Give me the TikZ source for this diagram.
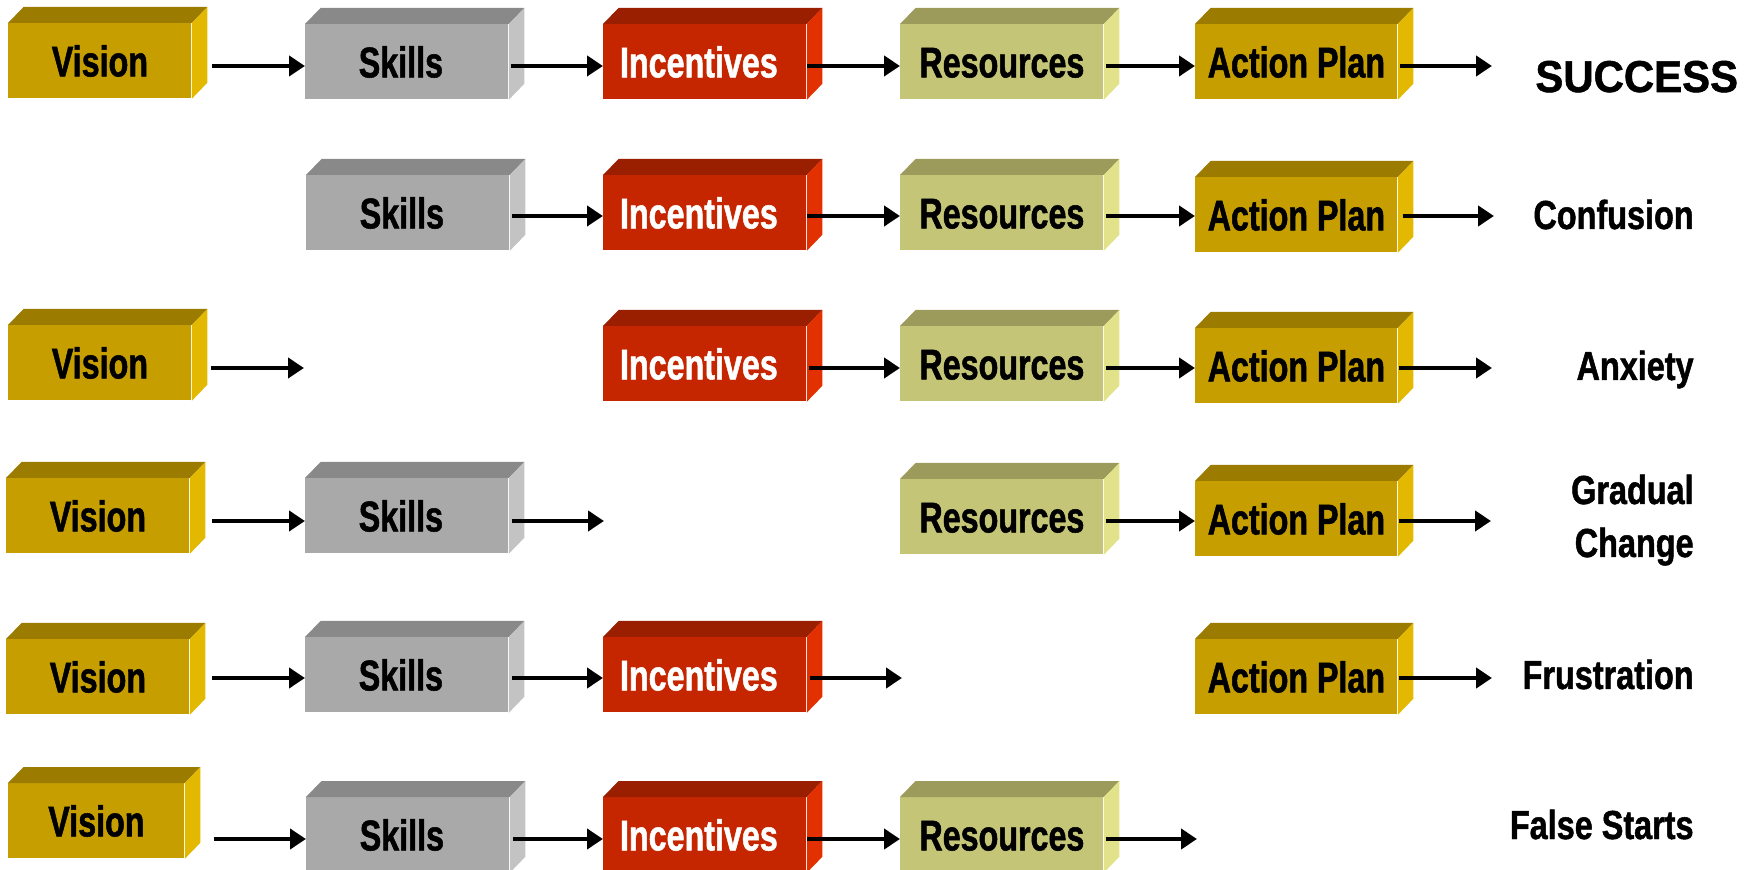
\documentclass[tikz,border=0pt]{standalone}
\usepackage{fontspec}
\usetikzlibrary{arrows.meta,calc}
\newfontfamily\narrowfont[FakeStretch=0.75,FakeBold=1.2]{Liberation Sans}
\newfontfamily\labfont[FakeStretch=0.8,FakeBold=1.2]{Liberation Sans}
\newfontfamily\sucfont[FakeStretch=0.94,FakeBold=1.2]{Liberation Sans}
\definecolor{visF}{HTML}{C69E00}\definecolor{visT}{HTML}{9B7B00}\definecolor{visS}{HTML}{E2B800}\definecolor{visX}{HTML}{000000}
\definecolor{sklF}{HTML}{A9A9A9}\definecolor{sklT}{HTML}{898989}\definecolor{sklS}{HTML}{C3C3C3}\definecolor{sklX}{HTML}{000000}
\definecolor{incF}{HTML}{C52600}\definecolor{incT}{HTML}{9A1F00}\definecolor{incS}{HTML}{E33000}\definecolor{incX}{HTML}{FFFFFF}
\definecolor{resF}{HTML}{C4C577}\definecolor{resT}{HTML}{9C9B5C}\definecolor{resS}{HTML}{E1E28A}\definecolor{resX}{HTML}{000000}
\newcommand\padvis{}\newcommand\padres{}
\newcommand\padskl{\kern6pt}\newcommand\padinc{\kern6pt}
\tikzset{
  cubenode/.style={anchor=north west, inner sep=0pt, minimum height=37.5pt,
    text height=15.5pt, text depth=0pt,
    font={\narrowfont\bfseries\fontsize{21.5}{24}\selectfont}},
  arr/.style={line width=2pt, -{Triangle[length=8pt,width=10pt]}},
  lab/.style={inner sep=0pt, anchor=base east,
    font={\labfont\bfseries\fontsize{20.25}{26.5}\selectfont}}
}
% #1 name, #2 x, #3 y, #4 kind, #5 text, #6 width (px)
\newcommand\Cube[6]{%
  \node[cubenode, fill=#4F, text=#4X, minimum width={#6*0.5pt}] (#1) at (#2,#3) {#5\csname pad#4\endcsname};
  \fill[#4T] (#1.north west) -- ++(15.5,-16) -- ($(#1.north east)+(15.5,-16)$) -- (#1.north east) -- cycle;
  \fill[#4S] (#1.north east) -- ++(15.5,-16) -- ($(#1.south east)+(15.5,-16)$) -- (#1.south east) -- cycle;
}
\begin{document}
\begin{tikzpicture}[x=0.5pt,y=-0.5pt]
\useasboundingbox (0,0) rectangle (1760,870);
% row 1
\Cube{v1}{8}{23}{vis}{Vision}{183}
\Cube{s1}{305}{24}{skl}{Skills}{203}
\Cube{i1}{603}{24}{inc}{Incentives}{203}
\Cube{r1}{900}{24}{res}{Resources}{203}
\Cube{a1}{1195}{24}{vis}{Action Plan}{202}
% row 2
\Cube{s2}{306}{175}{skl}{Skills}{203}
\Cube{i2}{603}{175}{inc}{Incentives}{203}
\Cube{r2}{900}{175}{res}{Resources}{203}
\Cube{a2}{1195}{177}{vis}{Action Plan}{202}
% row 3
\Cube{v3}{8}{325}{vis}{Vision}{183}
\Cube{i3}{603}{326}{inc}{Incentives}{203}
\Cube{r3}{900}{326}{res}{Resources}{203}
\Cube{a3}{1195}{328}{vis}{Action Plan}{202}
% row 4
\Cube{v4}{6}{478}{vis}{Vision}{183}
\Cube{s4}{305}{478}{skl}{Skills}{203}
\Cube{r4}{900}{479}{res}{Resources}{203}
\Cube{a4}{1195}{481}{vis}{Action Plan}{202}
% row 5
\Cube{v5}{6}{639}{vis}{Vision}{183}
\Cube{s5}{305}{637}{skl}{Skills}{203}
\Cube{i5}{603}{637}{inc}{Incentives}{203}
\Cube{a5}{1195}{639}{vis}{Action Plan}{202}
% row 6
\Cube{v6}{8}{783}{vis}{Vision}{176}
\Cube{s6}{306}{797}{skl}{Skills}{203}
\Cube{i6}{603}{797}{inc}{Incentives}{203}
\Cube{r6}{900}{797}{res}{Resources}{203}

% row y levels
\coordinate (y1) at (0,66);
\coordinate (y2) at (0,216);
\coordinate (y3) at (0,368);
\coordinate (y4) at (0,521);
\coordinate (y5) at (0,678);
\coordinate (y6) at (0,839);

% labels
\node[inner sep=0pt, anchor=base west, font={\sucfont\bfseries\fontsize{22.3}{26}\selectfont}] (L1) at (1535,92) {SUCCESS};
\node[lab] (L2) at (1694,229) {Confusion};
\node[lab] (L3) at (1694,380) {Anxiety};
\node[lab, align=right] (L4) at (1694,557) {Gradual\\Change};
\node[lab] (L5) at (1694,689) {Frustration};
\node[lab] (L6) at (1694,839) {False Starts};

% free ends
\coordinate (e1) at (1492,66);
\coordinate (e2) at (1494,216);
\coordinate (e3a) at (304,368);
\coordinate (e3) at (1492,368);
\coordinate (e4a) at (604,521);
\coordinate (e4) at (1491,521);
\coordinate (e5a) at (902,678);
\coordinate (e5) at (1492,678);
\coordinate (e6) at (1197,839);

% arrows row 1
\draw[arr] ($(v1.east |- y1)+(20,0)$) -- (s1.west |- y1);
\draw[arr] ($(s1.east |- y1)+(2,0)$) -- (i1.west |- y1);
\draw[arr] ($(i1.east |- y1)+(0,0)$) -- (r1.west |- y1);
\draw[arr] ($(r1.east |- y1)+(2,0)$) -- (a1.west |- y1);
\draw[arr] ($(a1.east |- y1)+(2,0)$) -- (e1);
% row 2
\draw[arr] ($(s2.east |- y2)+(2,0)$) -- (i2.west |- y2);
\draw[arr] ($(i2.east |- y2)+(0,0)$) -- (r2.west |- y2);
\draw[arr] ($(r2.east |- y2)+(2,0)$) -- (a2.west |- y2);
\draw[arr] ($(a2.east |- y2)+(5,0)$) -- (e2);
% row 3
\draw[arr] ($(v3.east |- y3)+(19,0)$) -- (e3a);
\draw[arr] ($(i3.east |- y3)+(2,0)$) -- (r3.west |- y3);
\draw[arr] ($(r3.east |- y3)+(2,0)$) -- (a3.west |- y3);
\draw[arr] ($(a3.east |- y3)+(1,0)$) -- (e3);
% row 4
\draw[arr] ($(v4.east |- y4)+(22,0)$) -- (s4.west |- y4);
\draw[arr] ($(s4.east |- y4)+(3,0)$) -- (e4a);
\draw[arr] ($(r4.east |- y4)+(2,0)$) -- (a4.west |- y4);
\draw[arr] ($(a4.east |- y4)+(1,0)$) -- (e4);
% row 5
\draw[arr] ($(v5.east |- y5)+(22,0)$) -- (s5.west |- y5);
\draw[arr] ($(s5.east |- y5)+(3,0)$) -- (i5.west |- y5);
\draw[arr] ($(i5.east |- y5)+(3,0)$) -- (e5a);
\draw[arr] ($(a5.east |- y5)+(1,0)$) -- (e5);
% row 6
\draw[arr] ($(v6.east |- y6)+(29,0)$) -- (s6.west |- y6);
\draw[arr] ($(s6.east |- y6)+(3,0)$) -- (i6.west |- y6);
\draw[arr] ($(i6.east |- y6)+(0,0)$) -- (r6.west |- y6);
\draw[arr] ($(r6.east |- y6)+(2,0)$) -- (e6);
\end{tikzpicture}
\end{document}
